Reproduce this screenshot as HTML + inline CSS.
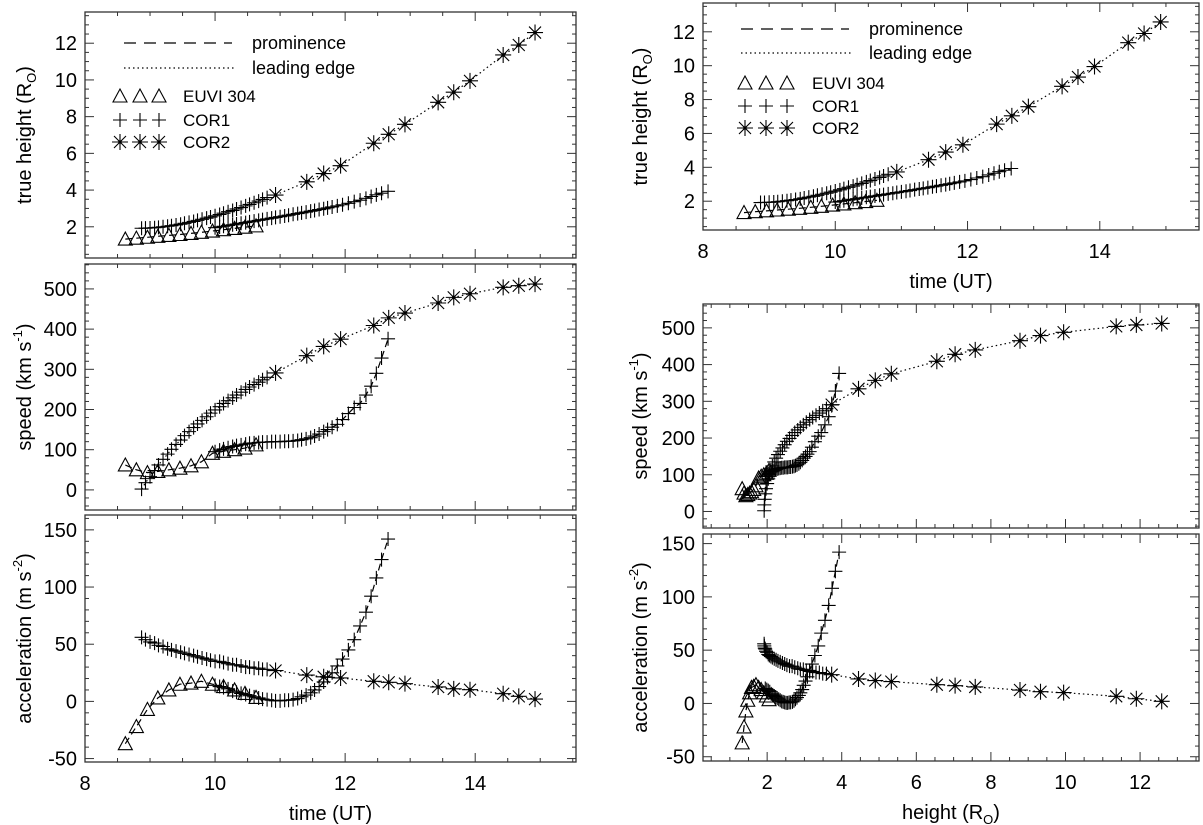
<!DOCTYPE html>
<html><head><meta charset="utf-8"><style>
html,body{margin:0;padding:0;background:#fff;}
svg{display:block;font-family:"Liberation Sans",sans-serif;}
</style></head><body>
<svg id="fig" width="1203" height="825" viewBox="0 0 1203 825" xmlns="http://www.w3.org/2000/svg"></svg>
<script>
// ---- data ----
const tEUVI=[8.62,8.79,8.96,9.12,9.29,9.46,9.63,9.79,9.96,10.13,10.30,10.46,10.63];
const hEUVI=[1.33,1.38,1.43,1.48,1.53,1.58,1.64,1.70,1.77,1.84,1.91,1.98,2.05];
const vEUVI=[62,50,43,46,50,54,60,70,91,96,100,104,112];
const aEUVI=[-37,-22,-7,3,10,15,16,17.6,15,13,10,7,3.5];

const tCOR1le=[8.87,8.93,9.00,9.07,9.13,9.20,9.27,9.33,9.40,9.47,9.53,9.60,9.67,9.73,9.80,9.87,9.93,10.00,10.07,10.13,10.20,10.27,10.33,10.40,10.47,10.53,10.60,10.67,10.73,10.80];
const hCOR1le=[1.92,1.925,1.935,1.95,1.97,2.0,2.03,2.06,2.10,2.14,2.19,2.24,2.29,2.35,2.41,2.47,2.53,2.60,2.67,2.74,2.82,2.89,2.97,3.05,3.14,3.22,3.31,3.40,3.49,3.59];
const vCOR1le=[2,18,33,48,62,76,89,101,113,124,135,145,155,164,173,182,191,199,207,215,222,229,236,243,250,256,262,268,274,280];
const aCOR1le=[56,54,52,51,49,48,46,45,44,43,42,41,40,39,38,37,36,35,35,34,33,32,32,31,30,30,29,29,28,28];

const tCOR1pr=[10.00,10.07,10.13,10.20,10.27,10.33,10.40,10.47,10.53,10.60,10.67,10.73,10.80,10.87,10.93,11.00,11.07,11.13,11.20,11.27,11.33,11.40,11.47,11.53,11.60,11.67,11.73,11.80,11.88,11.96,12.05,12.14,12.23,12.32,12.40,12.48,12.56,12.66];
const hCOR1pr=[1.95,1.99,2.03,2.07,2.11,2.15,2.19,2.23,2.27,2.31,2.35,2.39,2.43,2.47,2.51,2.55,2.59,2.63,2.68,2.72,2.76,2.80,2.85,2.89,2.94,2.98,3.03,3.08,3.14,3.20,3.28,3.37,3.45,3.55,3.65,3.74,3.83,3.93];
const vCOR1pr=[95,99,102,105,108,110,112,114,116,117,118,119,119,120,120,120,121,121,122,123,125,127,130,134,139,145,150,156,163,175,190,205,215,236,258,290,328,376];
const aCOR1pr=[14,13,12,11,9,8,7,6,5,4,3,2,1.5,1,0.5,0.5,1,1,1.5,2.5,4,5.5,7.5,10,13,17,21,25,31,37,45,54,66,78,92,108,124,142];

const tCOR2=[10.93,11.41,11.67,11.93,12.44,12.67,12.92,13.43,13.67,13.92,14.43,14.67,14.92];
const hCOR2=[3.73,4.45,4.9,5.33,6.55,7.04,7.58,8.78,9.33,9.95,11.36,11.9,12.58];
const vCOR2=[291,334,357,375,409,428,440,465,479,488,504,508,512];
const aCOR2=[27,23,21.5,20.5,17.6,16.7,15.5,12.6,11,10.2,6.7,4.4,2];

const timeTicks=[8,10,12,14];
const heightTicks=[2,4,6,8,10,12];
const speedTicks=[0,100,200,300,400,500];
const accTicks=[-50,0,50,100,150];

// ---- drawing ----
const NS='http://www.w3.org/2000/svg';
const svg=document.getElementById('fig');
function el(tag,attrs,parent){const e=document.createElementNS(NS,tag);for(const k in attrs)e.setAttribute(k,attrs[k]);(parent||svg).appendChild(e);return e;}

function panel(name,box,xr,yr,xt,xminor,yt,yminor,xlab,ylab,series){
  const g=el('g',{});
  
  
  const [x0,y0,x1,y1]=box;
  const sx=v=>x0+(v-xr[0])/(xr[1]-xr[0])*(x1-x0);
  const sy=v=>y1-(v-yr[0])/(yr[1]-yr[0])*(y1-y0);
  const fr=el('rect',{x:x0,y:y0,width:x1-x0,height:y1-y0,fill:'none',stroke:'#333','stroke-width':1.3},g);
  
  
  const xs=Math.ceil(xr[0]/xminor-1e-6);
  for(let k=xs;k*xminor<=xr[1]+1e-6;k++){
    const v=k*xminor;const major=xt.some(t=>Math.abs(t-v)<1e-6)||Math.abs(v/2-Math.round(v/2))<1e-6;
    const L=major?9:4;const X=sx(v);
    el('line',{x1:X,y1:y1,x2:X,y2:y1-L,stroke:'#333','stroke-width':1},g);
    el('line',{x1:X,y1:y0,x2:X,y2:y0+L,stroke:'#333','stroke-width':1},g);
  }
  const ys=Math.ceil(yr[0]/yminor-1e-6);
  for(let k=ys;k*yminor<=yr[1]+1e-6;k++){
    const v=k*yminor;const major=yt.some(t=>Math.abs(t-v)<1e-6);
    const L=major?9:4;const Y=sy(v);
    el('line',{x1:x0,y1:Y,x2:x0+L,y2:Y,stroke:'#333','stroke-width':1},g);
    el('line',{x1:x1,y1:Y,x2:x1-L,y2:Y,stroke:'#333','stroke-width':1},g);
  }
  yt.forEach(v=>{
    const t=el('text',{x:x0-8,y:sy(v)+7,'text-anchor':'end','font-size':20},g);
    t.textContent=v;
    
    
  });
  if(xlab){
    xt.forEach(v=>{
      const t=el('text',{x:sx(v),y:y1+28,'text-anchor':'middle','font-size':20},g);
      t.textContent=v;
      
      
    });
    const t=el('text',{x:(x0+x1)/2,y:y1+58,'text-anchor':'middle','font-size':20},g);
    t.innerHTML=xlab;
    
    
  }
  const yc=(y0+y1)/2, xc=ylab[1];
  const yt2=el('text',{x:xc,y:yc,'text-anchor':'middle','font-size':20,transform:`rotate(-90 ${xc} ${yc})`,dy:7},g);
  yt2.innerHTML=ylab[0];
  
  
  series.forEach(s=>{
    const sg=el('g',{},g);
    
    
    const pts=s.x.map((v,i)=>sx(v).toFixed(1)+','+sy(s.y[i]).toFixed(1)).join(' ');
    el('polyline',{points:pts,fill:'none',stroke:'#000','stroke-width':1.2,'stroke-dasharray':s.dash},sg);
    s.x.forEach((v,i)=>marker(sg,s.m,sx(v),sy(s.y[i])));
  });
}
function marker(g,m,X,Y){
  let e;
  if(m==='tri'){e=el('polygon',{points:`${X-7},${Y+6} ${X+7},${Y+6} ${X},${Y-7}`,fill:'none',stroke:'#000','stroke-width':1.1},g);}
  else if(m==='plus'){e=el('path',{d:`M${X-7} ${Y}H${X+7}M${X} ${Y-7}V${Y+7}`,stroke:'#000','stroke-width':1.1,fill:'none'},g);}
  else {e=el('g',{},g);
    el('path',{d:`M${X-8} ${Y}H${X+8}M${X} ${Y-8}V${Y+8}M${X-6} ${Y-6}L${X+6} ${Y+6}M${X-6} ${Y+6}L${X+6} ${Y-6}`,stroke:'#000','stroke-width':1.1,fill:'none'},e);
    el('circle',{cx:X,cy:Y,r:1.8,fill:'#000'},e);}
  
  
}
function legend(name,x,ys,mx,tx){
  const g=el('g',{});
  
  
  el('line',{x1:x,y1:ys[0],x2:x+108,y2:ys[0],stroke:'#000','stroke-width':1.2,'stroke-dasharray':'12,8'},g);
  el('line',{x1:x,y1:ys[1],x2:x+112,y2:ys[1],stroke:'#000','stroke-width':1.2,'stroke-dasharray':'1.5,3'},g);
  const labs=['prominence','leading edge'];
  labs.forEach((l,i)=>{const t=el('text',{x:x+128,y:ys[i]+6,'font-size':18},g);t.textContent=l;
    });
  const ms=['tri','plus','ast'],nm=['EUVI 304','COR1','COR2'];
  ms.forEach((m,i)=>{mx.forEach(X=>marker(g,m,X,ys[2+i]));
    const t=el('text',{x:tx,y:ys[2+i]+6,'font-size':17},g);t.textContent=nm[i];
    });
}
const ROD='R<tspan font-size="13" dy="5">O</tspan><tspan dy="-5">)</tspan>';
const HLAB=['true height ('+ROD,'speed (km s<tspan font-size="13" dy="-9">-1</tspan><tspan dy="9">)</tspan>','acceleration (m s<tspan font-size="13" dy="-9">-2</tspan><tspan dy="9">)</tspan>'];
function S(name,x,y,m,dash){return {name,x,y,m,dash};}
const DASH='7,4', DOT='1.5,3';
const timeXR=[8,15.55], timeXR2=[8,15.5], hXR=[0.28,13.58];
// left column
panel('height-time-panel',[85,12,576,258],timeXR,[0.3,13.7],timeTicks,0.5,heightTicks,0.5,null,[HLAB[0],24],[
  S('euvi-height',tEUVI,hEUVI,'tri',DASH),S('cor1-prominence-height',tCOR1pr,hCOR1pr,'plus',DASH),
  S('cor1-leading-edge-height',tCOR1le,hCOR1le,'plus',DOT),S('cor2-height',tCOR2,hCOR2,'ast',DOT)]);
panel('speed-time-panel',[85,264,576,510],timeXR,[-50,562],timeTicks,0.5,speedTicks,20,null,[HLAB[1],24],[
  S('euvi-speed',tEUVI,vEUVI,'tri',DASH),S('cor1-prominence-speed',tCOR1pr,vCOR1pr,'plus',DASH),
  S('cor1-leading-edge-speed',tCOR1le,vCOR1le,'plus',DOT),S('cor2-speed',tCOR2,vCOR2,'ast',DOT)]);
panel('acceleration-time-panel',[85,515,576,762],timeXR,[-53,163],timeTicks,0.5,accTicks,10,'time (UT)',[HLAB[2],24],[
  S('euvi-accel',tEUVI,aEUVI,'tri',DASH),S('cor1-prominence-accel',tCOR1pr,aCOR1pr,'plus',DASH),
  S('cor1-leading-edge-accel',tCOR1le,aCOR1le,'plus',DOT),S('cor2-accel',tCOR2,aCOR2,'ast',DOT)]);
// right column
panel('height-time-panel-right',[703,3,1199,230],timeXR2,[0.3,13.7],timeTicks,0.5,heightTicks,0.5,'time (UT)',[HLAB[0],640],[
  S('euvi-height',tEUVI,hEUVI,'tri',DASH),S('cor1-prominence-height',tCOR1pr,hCOR1pr,'plus',DASH),
  S('cor1-leading-edge-height',tCOR1le,hCOR1le,'plus',DOT),S('cor2-height',tCOR2,hCOR2,'ast',DOT)]);
panel('speed-height-panel',[703,304,1199,528],hXR,[-45,565],heightTicks,0.5,speedTicks,20,null,[HLAB[1],640],[
  S('euvi-speed',hEUVI,vEUVI,'tri',DASH),S('cor1-prominence-speed',hCOR1pr,vCOR1pr,'plus',DASH),
  S('cor1-leading-edge-speed',hCOR1le,vCOR1le,'plus',DOT),S('cor2-speed',hCOR2,vCOR2,'ast',DOT)]);
panel('acceleration-height-panel',[703,534,1199,761],hXR,[-54,159],heightTicks,0.5,accTicks,10,'height (R<tspan font-size="13" dy="5">O</tspan><tspan dy="-5">)</tspan>',[HLAB[2],640],[
  S('euvi-accel',hEUVI,aEUVI,'tri',DASH),S('cor1-prominence-accel',hCOR1pr,aCOR1pr,'plus',DASH),
  S('cor1-leading-edge-accel',hCOR1le,aCOR1le,'plus',DOT),S('cor2-accel',hCOR2,aCOR2,'ast',DOT)]);
legend('legend-left',124,[43,68,96,120,142],[120,140,159],183);
legend('legend-right',741,[29,53,83,106,128],[745,766,787],812);
</script>
</body></html>
